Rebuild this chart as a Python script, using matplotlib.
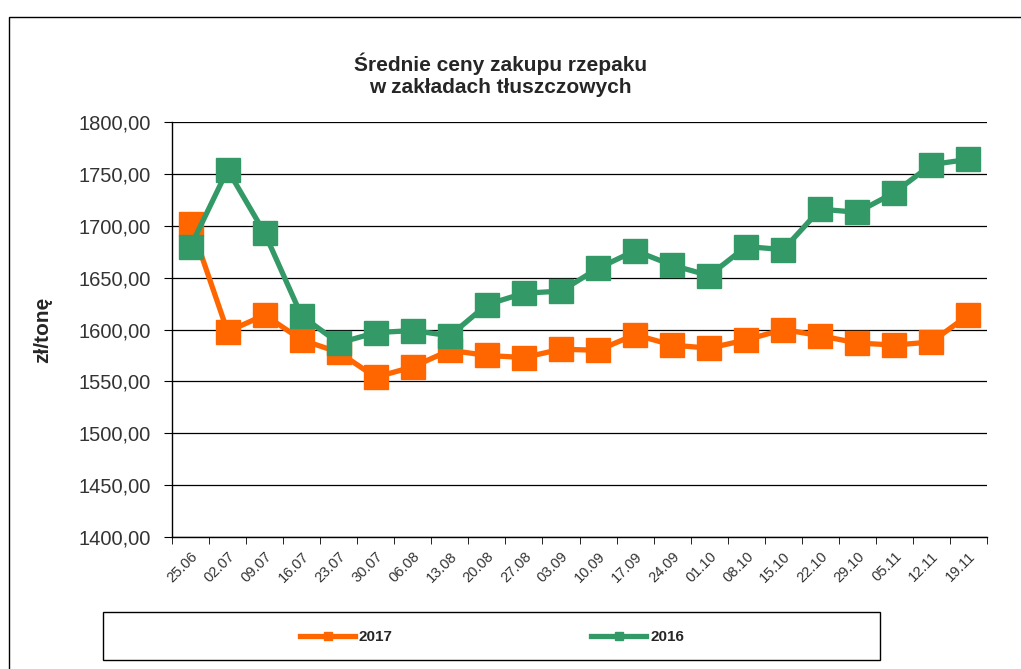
# średnie ceny zakupu rzepaku - 2017 vs 2016

import numpy as np
import matplotlib
matplotlib.use("Agg")
import matplotlib.pyplot as plt
from matplotlib.patches import Rectangle
from matplotlib.ticker import FixedLocator, FuncFormatter

plt.rcParams['font.family'] = ['Liberation Sans', 'DejaVu Sans']

# data
weeks = ["25.06", "02.07", "09.07", "16.07", "23.07", "30.07", "06.08", "13.08",
         "20.08", "27.08", "03.09", "10.09", "17.09", "24.09", "01.10", "08.10",
         "15.10", "22.10", "29.10", "05.11", "12.11", "19.11"]
prices_2017 = [1702, 1598, 1614, 1590, 1578, 1554, 1564, 1580, 1575, 1573, 1581,
               1580, 1595, 1585, 1582, 1590, 1600, 1594, 1587, 1585, 1588, 1614]
prices_2016 = [1680, 1754, 1693, 1613, 1587, 1597, 1599, 1594, 1624, 1635, 1637,
               1659, 1676, 1662, 1652, 1680, 1677, 1716, 1713, 1732, 1759, 1764]

orange = "#FF6600"
green = "#339966"
txt = "#333333"

fig = plt.figure(figsize=(10.21, 6.69), dpi=100)
ax = fig.add_axes([0.1685, 0.1973, 0.7982, 0.6203])

x = np.arange(len(weeks))
l1, = ax.plot(x, prices_2017, color=orange, lw=3.8, marker="s", ms=17, label="2017", zorder=3)
l2, = ax.plot(x, prices_2016, color=green, lw=3.8, marker="s", ms=17, label="2016", zorder=4)

ax.set_xlim(-0.5, len(weeks) - 0.5)
ax.set_ylim(1400, 1800)
ax.set_yticks(np.arange(1400, 1801, 50))
ax.yaxis.set_major_formatter(FuncFormatter(lambda v, p: f"{v:.2f}".replace(".", ",")))
ax.tick_params(axis="y", labelsize=14.5, labelcolor=txt, length=6, color="black", pad=9)
ax.grid(axis="y", color="black", lw=0.9)
ax.set_axisbelow(True)

ax.set_xticks(x)
ax.set_xticklabels(weeks, rotation=45, ha="right", rotation_mode="anchor", fontsize=10.5, color=txt)
ax.tick_params(axis="x", length=0, pad=9)
ax.xaxis.set_minor_locator(FixedLocator(np.arange(-0.5, len(weeks), 1)))
ax.tick_params(axis="x", which="minor", length=5, color="black")

for s in ["top", "right"]:
    ax.spines[s].set_visible(False)
for s in ["left", "bottom"]:
    ax.spines[s].set_color("black")
    ax.spines[s].set_linewidth(1.0)

ax.set_ylabel("zł/tonę", fontsize=15, fontweight="bold", color="#262626")
ax.yaxis.set_label_coords(-0.147, 0.5)

fig.text(0.49, 0.888, "Średnie ceny zakupu rzepaku\nw zakładach tłuszczowych",
         ha="center", va="center", fontsize=15, fontweight="bold", linespacing=1.2, color="#262626")

# outer chart frame
fig.patches.append(Rectangle((9 / 1021, -0.01), 1.0, 1 - 17 / 669 + 0.01, transform=fig.transFigure,
                             fill=False, edgecolor="black", lw=1.0))

# legend box
fig.patches.append(Rectangle((103 / 1021, 1 - 660 / 669), 777 / 1021, 48 / 669,
                             transform=fig.transFigure, fill=False, edgecolor="black", lw=1.0))
leg = fig.legend(handles=[l1, l2], loc="center", bbox_to_anchor=(492 / 1021, 1 - 637 / 669),
                 ncol=2, frameon=False, markerscale=0.35, handlelength=3.6,
                 columnspacing=13, handletextpad=0.25,
                 prop={"weight": "bold", "size": 11})
for t in leg.get_texts():
    t.set_color("#262626")

fig.savefig("out.png", dpi=100)
